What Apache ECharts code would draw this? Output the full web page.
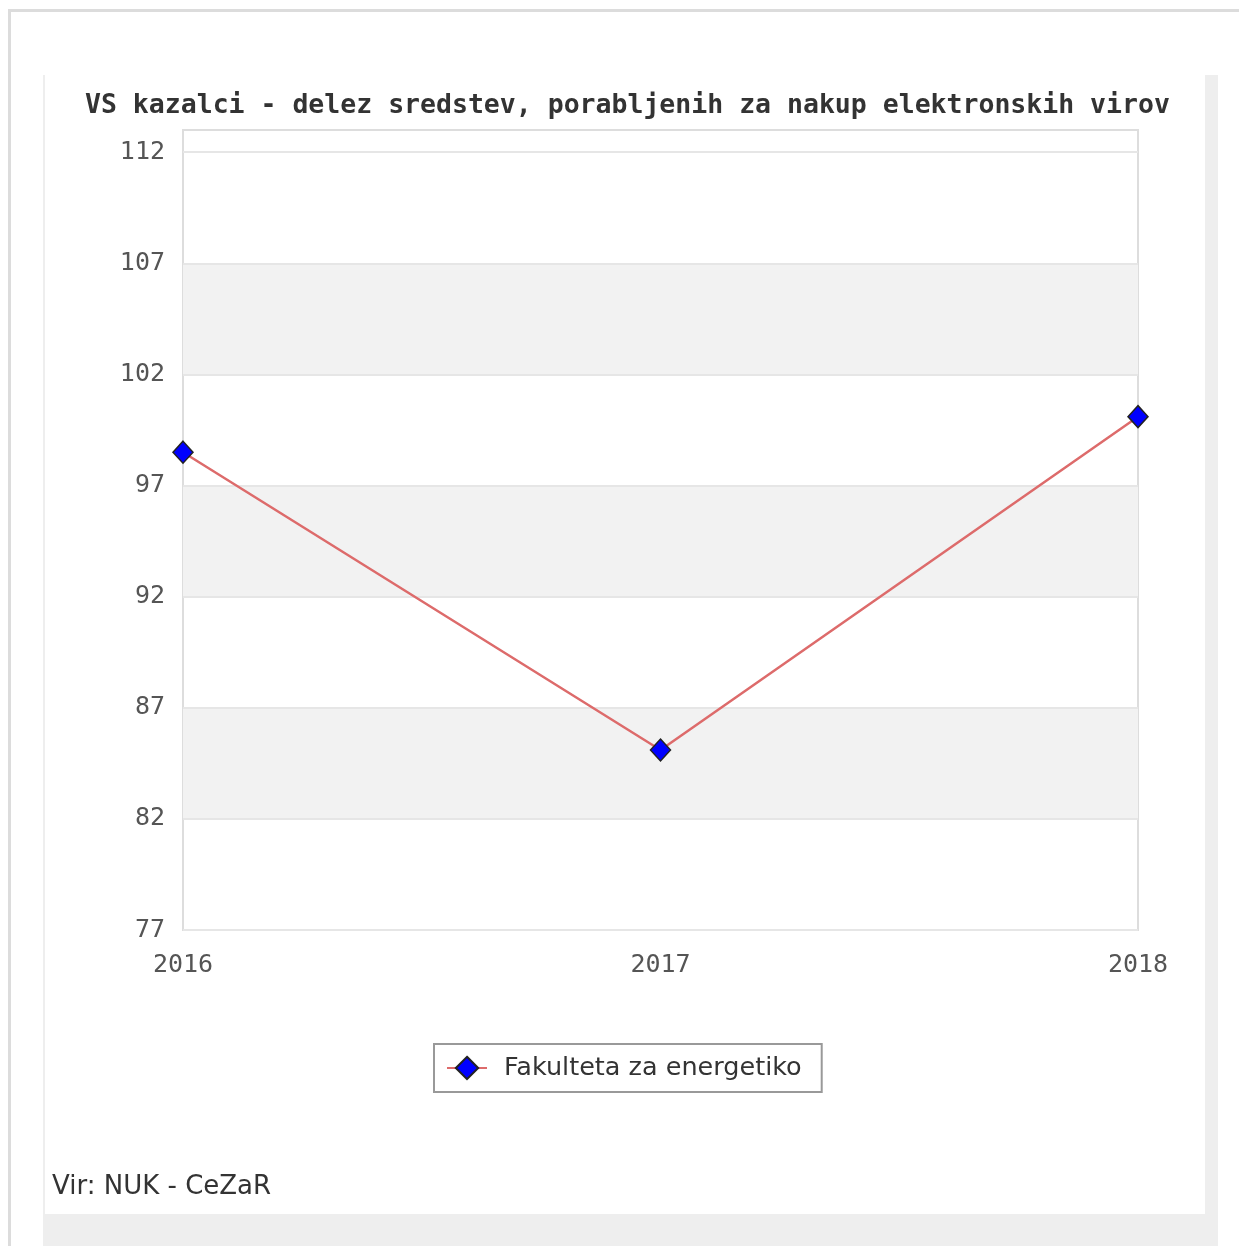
<!DOCTYPE html>
<html>
<head>
<meta charset="utf-8">
<script src="https://cdn.jsdelivr.net/npm/echarts@6/dist/echarts.min.js"></script>
<style>
    html, body { margin: 0; padding: 0; background: #fff; }
    .frame { position: absolute; left: 8px; top: 9px; width: 1240px; height: 1250px;
             border-left: 3px solid #dcdcdc; border-top: 3px solid #dcdcdc; }
    .panel { position: absolute; left: 43px; top: 75px; width: 1175px; height: 1180px; background: #eeeeee; }
    .panel-inner { position: absolute; left: 0; top: 0; width: 1162px; height: 1139px;
                   background: #fff; border-left: 2px solid #eeeeee; box-sizing: border-box; }
    #chart { position: absolute; left: 0; top: 0; width: 1239px; height: 1246px; }
</style>
</head>
<body>
<div class="frame"></div>
<div class="panel"><div class="panel-inner"></div></div>
<div id="chart"></div>
<script>
    // data
    var years = ['2016', '2017', '2018'];
    var shareValues = [98.5, 85.1, 100.1];
    var seriesName = 'Fakulteta za energetiko';
    var yTicks = [77, 82, 87, 92, 97, 102, 107, 112];
    var grayBands = [[82, 87], [92, 97], [102, 107]];

    var chart = echarts.init(document.getElementById('chart'));

    var option = {
        backgroundColor: 'transparent',
        animation: false,
        title: [
            {
                text: 'VS kazalci - delez sredstev, porabljenih za nakup elektronskih virov',
                left: 85,
                top: 93,
                padding: 0,
                textStyle: {
                    fontFamily: 'DejaVu Sans Mono',
                    fontWeight: 'bold',
                    fontSize: 26.5,
                    color: '#333'
                }
            },
            {
                text: 'Vir: NUK - CeZaR',
                left: 52,
                top: 1174,
                padding: 0,
                textStyle: {
                    fontFamily: 'DejaVu Sans',
                    fontWeight: 'normal',
                    fontSize: 26,
                    color: '#333'
                }
            }
        ],
        legend: {
            data: [seriesName],
            left: 434,
            top: 1044,
            padding: [11, 20, 11, 12],
            itemWidth: 40,
            itemHeight: 28,
            itemGap: 0,
            borderColor: '#999',
            borderWidth: 2,
            textStyle: {
                fontFamily: 'DejaVu Sans',
                fontSize: 25.5,
                color: '#333',
                padding: [0, 0, 0, 12]
            }
        },
        grid: {
            left: 183,
            top: 130,
            width: 955,
            height: 800,
            show: true,
            backgroundColor: '#fff',
            borderColor: '#dddddd',
            borderWidth: 2
        },
        xAxis: {
            type: 'category',
            boundaryGap: false,
            data: years,
            axisLine: { show: true, lineStyle: { color: '#dddddd', width: 2 } },
            axisTick: { show: false },
            axisLabel: {
                margin: 23,
                fontFamily: 'DejaVu Sans Mono',
                fontSize: 25,
                color: '#555'
            },
            splitLine: { show: false }
        },
        yAxis: {
            type: 'value',
            min: 77,
            max: 113,
            interval: 1,
            axisLine: { show: false },
            axisTick: { show: false },
            splitLine: { show: false },
            axisLabel: {
                margin: 18,
                fontFamily: 'DejaVu Sans Mono',
                fontSize: 25,
                color: '#555',
                padding: [10, 0, 0, 0],
                formatter: function (v) {
                    return yTicks.indexOf(v) >= 0 ? String(v) : '';
                }
            }
        },
        series: [
            {
                name: seriesName,
                type: 'line',
                data: shareValues,
                symbol: 'diamond',
                symbolSize: [20, 22],
                lineStyle: { color: '#dd6b6b', width: 2.5 },
                itemStyle: { color: '#0000ff', borderColor: '#222', borderWidth: 1.5 },
                z: 5,
                markArea: {
                    silent: true,
                    itemStyle: { color: '#f2f2f2' },
                    data: grayBands.map(function (b) {
                        return [{ yAxis: b[0] }, { yAxis: b[1] }];
                    })
                },
                markLine: {
                    silent: true,
                    symbol: 'none',
                    label: { show: false },
                    lineStyle: { color: '#e6e6e6', width: 2, type: 'solid' },
                    data: yTicks.map(function (v) {
                        return { yAxis: v };
                    })
                }
            }
        ]
    };

    chart.setOption(option);
</script>
</body>
</html>
